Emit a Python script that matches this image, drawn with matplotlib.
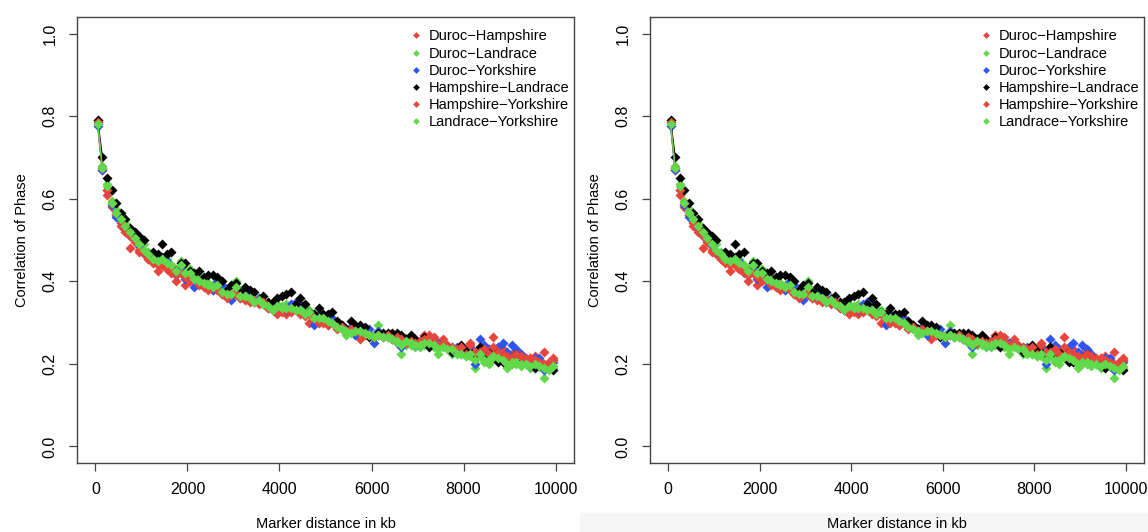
import numpy as np
import matplotlib.pyplot as plt
from matplotlib.patches import Rectangle

plt.rcParams['font.family'] = ['Liberation Sans', 'DejaVu Sans']

# marker distance bins (kb), bin centres
dist_kb = np.arange(50, 10000, 100)

# correlation of phase per breed pair
duroc_hampshire = [
    0.78, 0.67, 0.61, 0.58, 0.56, 0.535, 0.52, 0.48, 0.50, 0.47,
    0.465, 0.455, 0.445, 0.425, 0.44, 0.43, 0.42, 0.40, 0.425, 0.39,
    0.41, 0.40, 0.395, 0.385, 0.39, 0.38, 0.385, 0.37, 0.365, 0.36,
    0.375, 0.365, 0.36, 0.355, 0.35, 0.35, 0.345, 0.34, 0.33, 0.32,
    0.33, 0.32, 0.33, 0.335, 0.32, 0.33, 0.30, 0.30, 0.31, 0.30,
    0.295, 0.305, 0.29, 0.29, 0.285, 0.28, 0.275, 0.26, 0.275, 0.27,
    0.265, 0.27, 0.27, 0.265, 0.265, 0.26, 0.255, 0.26, 0.255, 0.255,
    0.25, 0.27, 0.27, 0.265, 0.25, 0.26, 0.245, 0.24, 0.235, 0.23,
    0.23, 0.25, 0.225, 0.24, 0.225, 0.235, 0.265, 0.24, 0.235, 0.215,
    0.225, 0.22, 0.225, 0.215, 0.215, 0.22, 0.21, 0.23, 0.205, 0.215]
duroc_landrace = [
    0.785, 0.68, 0.635, 0.595, 0.575, 0.555, 0.54, 0.525, 0.51, 0.495,
    0.49, 0.47, 0.465, 0.455, 0.46, 0.455, 0.44, 0.43, 0.45, 0.43,
    0.43, 0.40, 0.41, 0.40, 0.395, 0.39, 0.395, 0.385, 0.375, 0.37,
    0.40, 0.37, 0.375, 0.365, 0.355, 0.36, 0.35, 0.345, 0.335, 0.345,
    0.34, 0.345, 0.34, 0.335, 0.34, 0.335, 0.33, 0.315, 0.315, 0.305,
    0.31, 0.305, 0.295, 0.285, 0.27, 0.28, 0.29, 0.275, 0.27, 0.275,
    0.27, 0.295, 0.27, 0.265, 0.26, 0.25, 0.225, 0.245, 0.245, 0.24,
    0.24, 0.245, 0.245, 0.24, 0.225, 0.245, 0.24, 0.225, 0.23, 0.225,
    0.22, 0.22, 0.19, 0.22, 0.205, 0.20, 0.215, 0.215, 0.22, 0.19,
    0.20, 0.20, 0.195, 0.20, 0.19, 0.20, 0.195, 0.165, 0.19, 0.19]
duroc_yorkshire = [
    0.775, 0.67, 0.62, 0.585, 0.555, 0.545, 0.53, 0.51, 0.505, 0.485,
    0.47, 0.465, 0.46, 0.45, 0.46, 0.45, 0.435, 0.415, 0.43, 0.405,
    0.405, 0.385, 0.40, 0.39, 0.385, 0.38, 0.40, 0.39, 0.365, 0.355,
    0.385, 0.36, 0.37, 0.36, 0.35, 0.36, 0.35, 0.335, 0.33, 0.34,
    0.33, 0.33, 0.345, 0.35, 0.345, 0.32, 0.325, 0.295, 0.32, 0.31,
    0.305, 0.31, 0.295, 0.295, 0.285, 0.29, 0.27, 0.285, 0.28, 0.285,
    0.25, 0.28, 0.265, 0.27, 0.26, 0.255, 0.24, 0.26, 0.26, 0.245,
    0.245, 0.255, 0.25, 0.255, 0.25, 0.245, 0.24, 0.23, 0.24, 0.235,
    0.225, 0.24, 0.20, 0.26, 0.245, 0.235, 0.225, 0.24, 0.25, 0.23,
    0.245, 0.235, 0.225, 0.205, 0.195, 0.215, 0.215, 0.185, 0.20, 0.205]
hampshire_landrace = [
    0.79, 0.70, 0.65, 0.62, 0.59, 0.565, 0.55, 0.53, 0.52, 0.51,
    0.50, 0.465, 0.47, 0.465, 0.49, 0.465, 0.47, 0.425, 0.445, 0.445,
    0.425, 0.42, 0.425, 0.41, 0.415, 0.415, 0.41, 0.40, 0.38, 0.39,
    0.395, 0.375, 0.385, 0.38, 0.375, 0.355, 0.365, 0.35, 0.35, 0.36,
    0.365, 0.37, 0.375, 0.345, 0.36, 0.345, 0.325, 0.32, 0.335, 0.32,
    0.32, 0.325, 0.305, 0.295, 0.285, 0.305, 0.295, 0.295, 0.29, 0.265,
    0.265, 0.275, 0.275, 0.275, 0.275, 0.275, 0.27, 0.26, 0.27, 0.26,
    0.25, 0.265, 0.24, 0.25, 0.24, 0.245, 0.24, 0.23, 0.235, 0.245,
    0.235, 0.23, 0.225, 0.24, 0.225, 0.215, 0.235, 0.205, 0.205, 0.205,
    0.21, 0.225, 0.205, 0.205, 0.205, 0.19, 0.195, 0.195, 0.195, 0.185]
hampshire_yorkshire = [
    0.785, 0.675, 0.62, 0.59, 0.565, 0.54, 0.525, 0.51, 0.495, 0.475,
    0.47, 0.455, 0.45, 0.44, 0.445, 0.43, 0.43, 0.415, 0.42, 0.41,
    0.40, 0.405, 0.39, 0.39, 0.38, 0.385, 0.38, 0.37, 0.36, 0.37,
    0.37, 0.36, 0.355, 0.35, 0.355, 0.345, 0.35, 0.335, 0.33, 0.335,
    0.325, 0.335, 0.325, 0.33, 0.325, 0.315, 0.32, 0.31, 0.30, 0.305,
    0.295, 0.30, 0.285, 0.29, 0.28, 0.285, 0.28, 0.275, 0.27, 0.27,
    0.265, 0.27, 0.265, 0.27, 0.26, 0.265, 0.26, 0.25, 0.255, 0.25,
    0.255, 0.26, 0.265, 0.255, 0.245, 0.25, 0.24, 0.24, 0.235, 0.24,
    0.225, 0.245, 0.23, 0.23, 0.235, 0.225, 0.24, 0.23, 0.225, 0.22,
    0.215, 0.225, 0.22, 0.21, 0.215, 0.21, 0.205, 0.20, 0.20, 0.21]
landrace_yorkshire = [
    0.78, 0.675, 0.63, 0.59, 0.565, 0.55, 0.535, 0.52, 0.505, 0.49,
    0.475, 0.465, 0.455, 0.45, 0.455, 0.445, 0.44, 0.425, 0.44, 0.42,
    0.42, 0.405, 0.40, 0.395, 0.39, 0.385, 0.39, 0.375, 0.37, 0.37,
    0.385, 0.365, 0.365, 0.36, 0.35, 0.355, 0.345, 0.34, 0.33, 0.34,
    0.335, 0.335, 0.335, 0.33, 0.33, 0.32, 0.325, 0.31, 0.31, 0.31,
    0.305, 0.30, 0.29, 0.285, 0.28, 0.275, 0.28, 0.28, 0.275, 0.27,
    0.265, 0.27, 0.265, 0.265, 0.26, 0.255, 0.245, 0.255, 0.25, 0.245,
    0.245, 0.25, 0.25, 0.245, 0.235, 0.24, 0.235, 0.235, 0.225, 0.225,
    0.22, 0.225, 0.21, 0.225, 0.21, 0.21, 0.22, 0.215, 0.21, 0.20,
    0.205, 0.205, 0.20, 0.20, 0.195, 0.20, 0.195, 0.19, 0.185, 0.195]

pairs = ['Duroc\u2212Hampshire', 'Duroc\u2212Landrace', 'Duroc\u2212Yorkshire',
         'Hampshire\u2212Landrace', 'Hampshire\u2212Yorkshire', 'Landrace\u2212Yorkshire']
series = [duroc_hampshire, duroc_landrace, duroc_yorkshire,
          hampshire_landrace, hampshire_yorkshire, landrace_yorkshire]
colors = ['#E8453C', '#62D94A', '#2F55EE', '#000000', '#E8453C', '#62D94A']

fig = plt.figure(figsize=(11.48, 5.32), dpi=100)
# faint grey strip at the bottom right of the screenshot
fig.patches.append(Rectangle((580 / 1148, 0), 1 - 580 / 1148, 19 / 532,
                             transform=fig.transFigure, color='#f6f6f6', zorder=-5))

axes = [fig.add_axes([77 / 1148, 69 / 532, 497 / 1148, 446 / 532]),
        fig.add_axes([650 / 1148, 69 / 532, 494 / 1148, 446 / 532])]

for ax in axes:
    ax.patch.set_alpha(0)
    for name, vals, col in zip(pairs, series, colors):
        ax.plot(dist_kb[:2], vals[:2], color=col, lw=1)
        ax.plot(dist_kb, vals, 'D', color=col, ms=5.3, mec='none', label=name)
    ax.set_xlim(-400, 10400)
    ax.set_ylim(-0.04, 1.04)
    ax.set_xticks([0, 2000, 4000, 6000, 8000, 10000])
    ax.set_yticks([0.0, 0.2, 0.4, 0.6, 0.8, 1.0])
    ax.set_yticklabels(['0.0', '0.2', '0.4', '0.6', '0.8', '1.0'],
                       rotation=90, va='center')
    ax.tick_params(length=6, width=0.9, color='#444444', pad=8, labelsize=11.5)
    for s in ax.spines.values():
        s.set_color('#444444')
        s.set_linewidth(1)
    ax.set_xlabel('Marker distance in kb', fontsize=10.5, labelpad=14)
    ax.set_ylabel('Correlation of Phase', fontsize=10.5, labelpad=10)
    leg = ax.legend(loc='upper right', frameon=False, fontsize=10.5,
                    handlelength=0.6, handletextpad=0.6, labelspacing=0.22,
                    markerscale=0.65, borderaxespad=0.3, bbox_to_anchor=(1.012, 0.995))

fig.savefig('out.png', dpi=100)
